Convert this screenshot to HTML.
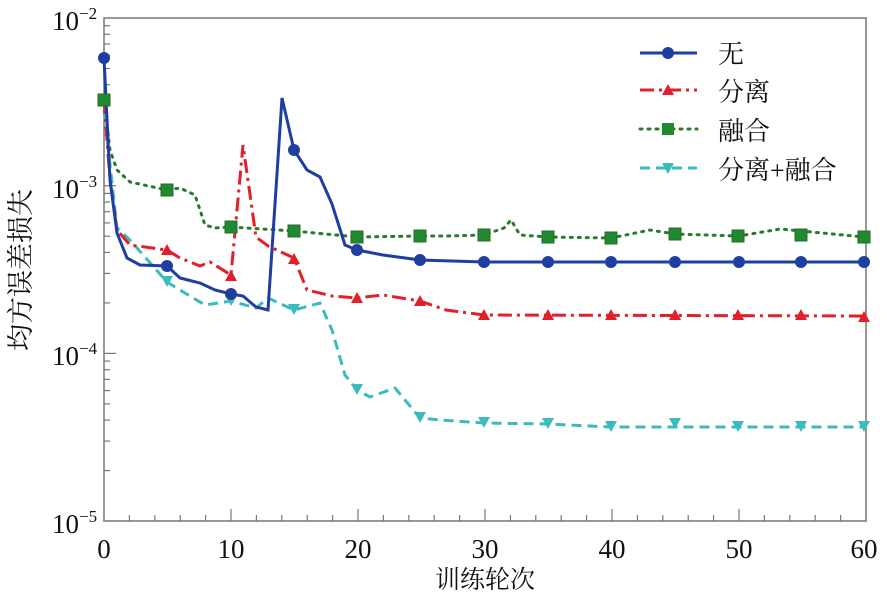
<!DOCTYPE html>
<html><head><meta charset="utf-8"><style>
body{margin:0;background:#fff;}
</style></head><body>
<svg width="887" height="592" xmlns="http://www.w3.org/2000/svg" font-family="'Liberation Serif','Noto Serif CJK SC',serif">
<rect x="104" y="18" width="762" height="503" fill="none" stroke="#777" stroke-width="1.5"/>
<g stroke="#777" stroke-width="1.2">
<line x1="104" x2="116" y1="185.7" y2="185.7"/><line x1="104" x2="116" y1="353.4" y2="353.4"/>
<line x1="104" x2="110" y1="135.2" y2="135.2"/><line x1="104" x2="110" y1="105.7" y2="105.7"/><line x1="104" x2="110" y1="84.7" y2="84.7"/><line x1="104" x2="110" y1="68.5" y2="68.5"/><line x1="104" x2="110" y1="55.2" y2="55.2"/><line x1="104" x2="110" y1="44" y2="44"/><line x1="104" x2="110" y1="34.3" y2="34.3"/><line x1="104" x2="110" y1="25.7" y2="25.7"/>
<line x1="104" x2="110" y1="302.9" y2="302.9"/><line x1="104" x2="110" y1="273.4" y2="273.4"/><line x1="104" x2="110" y1="252.4" y2="252.4"/><line x1="104" x2="110" y1="236.2" y2="236.2"/><line x1="104" x2="110" y1="222.9" y2="222.9"/><line x1="104" x2="110" y1="211.7" y2="211.7"/><line x1="104" x2="110" y1="202" y2="202"/><line x1="104" x2="110" y1="193.4" y2="193.4"/>
<line x1="104" x2="110" y1="470.6" y2="470.6"/><line x1="104" x2="110" y1="441.1" y2="441.1"/><line x1="104" x2="110" y1="420.1" y2="420.1"/><line x1="104" x2="110" y1="403.9" y2="403.9"/><line x1="104" x2="110" y1="390.6" y2="390.6"/><line x1="104" x2="110" y1="379.4" y2="379.4"/><line x1="104" x2="110" y1="369.7" y2="369.7"/><line x1="104" x2="110" y1="361.1" y2="361.1"/>
<line x1="129.4" x2="129.4" y1="521" y2="515"/><line x1="154.8" x2="154.8" y1="521" y2="515"/><line x1="180.2" x2="180.2" y1="521" y2="515"/><line x1="205.6" x2="205.6" y1="521" y2="515"/><line x1="231" x2="231" y1="521" y2="509"/>
<line x1="256.4" x2="256.4" y1="521" y2="515"/><line x1="281.8" x2="281.8" y1="521" y2="515"/><line x1="307.2" x2="307.2" y1="521" y2="515"/><line x1="332.6" x2="332.6" y1="521" y2="515"/><line x1="358" x2="358" y1="521" y2="509"/>
<line x1="383.4" x2="383.4" y1="521" y2="515"/><line x1="408.8" x2="408.8" y1="521" y2="515"/><line x1="434.2" x2="434.2" y1="521" y2="515"/><line x1="459.6" x2="459.6" y1="521" y2="515"/><line x1="485" x2="485" y1="521" y2="509"/>
<line x1="510.4" x2="510.4" y1="521" y2="515"/><line x1="535.8" x2="535.8" y1="521" y2="515"/><line x1="561.2" x2="561.2" y1="521" y2="515"/><line x1="586.6" x2="586.6" y1="521" y2="515"/><line x1="612" x2="612" y1="521" y2="509"/>
<line x1="637.4" x2="637.4" y1="521" y2="515"/><line x1="662.8" x2="662.8" y1="521" y2="515"/><line x1="688.2" x2="688.2" y1="521" y2="515"/><line x1="713.6" x2="713.6" y1="521" y2="515"/><line x1="739" x2="739" y1="521" y2="509"/>
<line x1="764.4" x2="764.4" y1="521" y2="515"/><line x1="789.8" x2="789.8" y1="521" y2="515"/><line x1="815.2" x2="815.2" y1="521" y2="515"/><line x1="840.6" x2="840.6" y1="521" y2="515"/>
</g>
<g font-size="27" fill="#111">
<text x="52" y="30">10<tspan dy="-11" font-size="17">−2</tspan></text>
<text x="52" y="198">10<tspan dy="-11" font-size="17">−3</tspan></text>
<text x="52" y="365">10<tspan dy="-11" font-size="17">−4</tspan></text>
<text x="52" y="533">10<tspan dy="-11" font-size="17">−5</tspan></text>
<g text-anchor="middle">
<text x="104" y="558">0</text><text x="231" y="558">10</text><text x="358" y="558">20</text><text x="485" y="558">30</text><text x="612" y="558">40</text><text x="739" y="558">50</text><text x="864" y="558">60</text>
</g>
<text x="485" y="588" text-anchor="middle" font-size="25">训练轮次</text>
<text transform="translate(30,270) rotate(-90)" text-anchor="middle" font-size="27">均方误差损失</text>
</g>
<polyline fill="none" stroke="#2a7a2a" stroke-width="3" stroke-dasharray="2,6" stroke-linecap="round" points="104,100 110,150 117,170 130,182 167,190 180,188 195,195 205,225 215,228 231,227 294,231 357,237 420,236 446,236 484,235 504,228 511,220 520,235 548,237 611,238 650,230 675,234 739,236 780,229 864,237"/>
<polyline fill="none" stroke="#3bbcbc" stroke-width="3" stroke-dasharray="10,6" points="104,110 117,228 130,240 167,282 180,290 205,305 231,301 256,308 268,298 294,310 320,303 332,330 345,375 357,390 370,397 395,388 420,418 440,420 484,423 548,424 611,427 864,427"/>
<polyline fill="none" stroke="#e0202a" stroke-width="3" stroke-dasharray="14,5,3,5" points="104,100 110,180 117,230 130,245 167,250 180,258 200,266 210,262 231,275 243,145 256,237 268,246 294,258 307,290 332,296 357,298 383,295 420,301 446,310 484,315 864,316"/>
<polyline fill="none" stroke="#1f3fa0" stroke-width="3" points="104,58 110,180 117,233 127,258 140,265 167,266 180,278 200,283 215,290 231,294 243,296 256,307 268,310 282,98 294,150 307,170 320,177 332,204 345,245 357,250 383,255 420,260 484,262 864,262"/>
<g fill="#1f8a2f" stroke="#2a6a2a">
<rect x="98" y="94" width="12" height="12"/><rect x="161" y="184" width="12" height="12"/><rect x="225" y="221" width="12" height="12"/><rect x="288" y="225" width="12" height="12"/><rect x="351" y="231" width="12" height="12"/><rect x="414" y="230" width="12" height="12"/><rect x="478" y="229" width="12" height="12"/><rect x="542" y="231" width="12" height="12"/><rect x="605" y="232" width="12" height="12"/><rect x="669" y="228" width="12" height="12"/><rect x="732" y="230" width="12" height="12"/><rect x="795" y="229" width="12" height="12"/><rect x="858" y="231" width="12" height="12"/>
</g>
<g fill="#3bbcbc">
<path d="M161,276h12l-6,11z M225,295h12l-6,11z M288,304h12l-6,11z M351,384h12l-6,11z M414,412h12l-6,11z M478,417h12l-6,11z M542,418h12l-6,11z M605,421h12l-6,11z M669,418h12l-6,11z M732,421h12l-6,11z M795,421h12l-6,11z M858,421h12l-6,11z"/>
</g>
<g fill="#e0202a">
<path d="M161,255h12l-6,-11z M225,281h12l-6,-11z M288,264h12l-6,-11z M351,303h12l-6,-11z M414,306h12l-6,-11z M478,320h12l-6,-11z M542,320h12l-6,-11z M605,320h12l-6,-11z M669,320h12l-6,-11z M732,320h12l-6,-11z M795,320h12l-6,-11z M858,322h12l-6,-11z"/>
</g>
<g fill="#1f3fa0">
<circle cx="104" cy="58" r="6"/><circle cx="167" cy="266" r="6"/><circle cx="231" cy="294" r="6"/><circle cx="294" cy="150" r="6"/><circle cx="357" cy="250" r="6"/><circle cx="420" cy="260" r="6"/><circle cx="484" cy="262" r="6"/><circle cx="548" cy="262" r="6"/><circle cx="611" cy="262" r="6"/><circle cx="675" cy="262" r="6"/><circle cx="739" cy="262" r="6"/><circle cx="801" cy="262" r="6"/><circle cx="864" cy="262" r="6"/>
</g>
<g>
<line x1="640" x2="697" y1="53" y2="53" stroke="#1f3fa0" stroke-width="3"/><circle cx="668" cy="53" r="6" fill="#1f3fa0"/>
<line x1="640" x2="697" y1="90" y2="90" stroke="#e0202a" stroke-width="3" stroke-dasharray="14,5,3,5"/><path d="M662,95h12l-6,-11z" fill="#e0202a"/>
<line x1="640" x2="697" y1="129" y2="129" stroke="#2a7a2a" stroke-width="3" stroke-dasharray="2,6" stroke-linecap="round"/><rect x="662" y="123" width="12" height="12" fill="#1f8a2f"/>
<line x1="640" x2="697" y1="168" y2="168" stroke="#3bbcbc" stroke-width="3" stroke-dasharray="10,6"/><path d="M662,163h12l-6,11z" fill="#3bbcbc"/>
<g font-size="26" fill="#111">
<text x="718" y="63">无</text><text x="718" y="101">分离</text><text x="718" y="140">融合</text><text x="718" y="179">分离+融合</text>
</g>
</g>
</svg>
</body></html>
